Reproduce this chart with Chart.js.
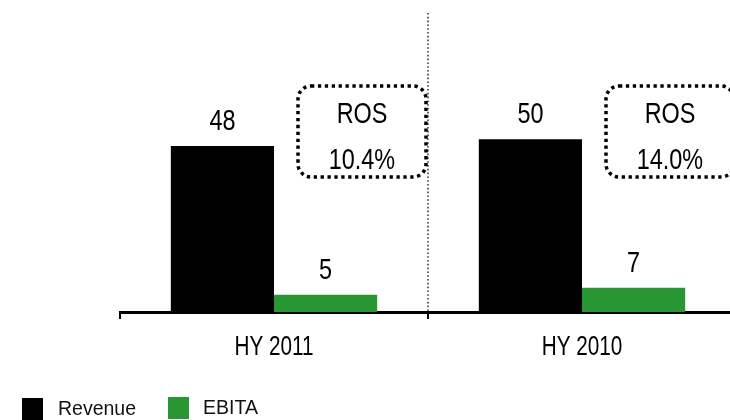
<!DOCTYPE html>
<html>
<head>
<meta charset="utf-8">
<script src="https://cdn.jsdelivr.net/npm/chart.js@4.4.1/dist/chart.umd.min.js"></script>
<style>
    html, body { margin: 0; padding: 0; background: #fff; }
    body { width: 730px; height: 420px; overflow: hidden; position: relative; }
    #chart { position: absolute; left: 0; top: 0; }
    .legend { position: absolute; left: 0; top: 0; font-family: 'Liberation Sans', Arial, sans-serif; font-size: 19.5px; color: #111; }
    .legend .sw { position: absolute; width: 21px; height: 22px; }
    .legend .lbl { position: absolute; line-height: 22px; }
</style>
</head>
<body>
<canvas id="chart" width="760" height="420"></canvas>
<div class="legend" id="legend"></div>
<script>
// Revenue / EBITA by half year
const categories = ['HY 2011', 'HY 2010'];
const revenue = [48, 50];
const ebita = [5, 7];
const rosLabels = ['10.4%', '14.0%'];

const COLORS = { revenue: '#000000', ebita: '#289632' };
const FONT = "'Liberation Sans', Arial, sans-serif";

// schmale Schrift (Arial Narrow nachgebildet durch horizontale Stauchung)
function narrowText(ctx, text, x, y, size, squeeze) {
    ctx.save();
    ctx.font = `${size}px ${FONT}`;
    ctx.textAlign = 'center';
    ctx.translate(x, y);
    ctx.scale(squeeze, 1);
    ctx.fillText(text, 0, 0);
    ctx.restore();
}

// Trennlinie, Achsenbeschriftung, Werte und ROS-Kästen
const annotations = {
    id: 'annotations',
    afterDatasetsDraw(chart) {
        const { ctx, chartArea, scales: { x } } = chart;
        ctx.save();

        // gepunktete Trennlinie zwischen den Kategorien
        ctx.strokeStyle = '#666';
        ctx.lineWidth = 2;
        ctx.setLineDash([1.6, 2.2]);
        for (let i = 1; i < categories.length; i++) {
            const xm = Math.round((x.getPixelForValue(i - 1) + x.getPixelForValue(i)) / 2);
            ctx.beginPath();
            ctx.moveTo(xm, chartArea.top);
            ctx.lineTo(xm, chartArea.bottom);
            ctx.stroke();
        }
        ctx.setLineDash([]);
        ctx.fillStyle = '#000';
        ctx.textBaseline = 'alphabetic';

        // Kategorien unter der Achse
        x.getLabels().forEach((lbl, i) => {
            narrowText(ctx, lbl, x.getPixelForValue(i), chartArea.bottom + 43, 28, 0.74);
        });

        // Werte über den Balken
        chart.data.datasets.forEach((ds, di) => {
            chart.getDatasetMeta(di).data.forEach((bar, i) => {
                narrowText(ctx, String(ds.data[i]), bar.x, bar.y - 16, 30, 0.78);
            });
        });

        // ROS-Kästen
        rosLabels.forEach((txt, i) => {
            const cx = x.getPixelForValue(i) + 88;
            const w = 128, h = 91;
            const left = cx - w / 2, top = chartArea.top + 73;
            ctx.strokeStyle = '#000';
            ctx.lineWidth = 3.5;
            ctx.setLineDash([3.3, 3.6]);
            ctx.beginPath();
            ctx.roundRect(left, top, w, h, 13);
            ctx.stroke();
            ctx.setLineDash([]);
            narrowText(ctx, 'ROS', cx, top + 37, 30, 0.78);
            narrowText(ctx, txt, cx, top + 83, 30, 0.78);
        });

        ctx.restore();
    }
};

const chart = new Chart(document.getElementById('chart'), {
    type: 'bar',
    data: {
        labels: categories,
        datasets: [
            { label: 'Revenue', data: revenue, backgroundColor: COLORS.revenue },
            { label: 'EBITA', data: ebita, backgroundColor: COLORS.ebita }
        ]
    },
    options: {
        responsive: false,
        animation: false,
        devicePixelRatio: 1,
        layout: { padding: { left: 120, right: 24, top: 13, bottom: 48 } },
        datasets: {
            bar: { categoryPercentage: 0.67, barPercentage: 1.0, borderWidth: 0 }
        },
        plugins: {
            legend: { display: false },
            tooltip: { enabled: false }
        },
        scales: {
            x: {
                offset: true,
                border: { display: true, color: '#000', width: 3 },
                grid: {
                    display: true,
                    offset: true,
                    drawOnChartArea: false,
                    drawTicks: true,
                    tickLength: 7,
                    color: '#000',
                    lineWidth: 2
                },
                ticks: { display: false },
                afterFit: s => { s.height = 60; }
            },
            y: {
                display: false,
                min: 0,
                max: 86.5
            }
        }
    },
    plugins: [annotations]
});

// Legende
const legendEl = document.getElementById('legend');
const legendItems = [
    { text: 'Revenue', color: COLORS.revenue, box: 22, label: 58, top: 398 },
    { text: 'EBITA', color: COLORS.ebita, box: 168, label: 203, top: 397 }
];
legendEl.innerHTML = legendItems.map(item => `
    <div class="sw" style="left:${item.box}px; top:${item.top}px; background:${item.color}"></div>
    <div class="lbl" style="left:${item.label}px; top:${item.top - 1}px">${item.text}</div>
`).join('');
</script>
</body>
</html>
